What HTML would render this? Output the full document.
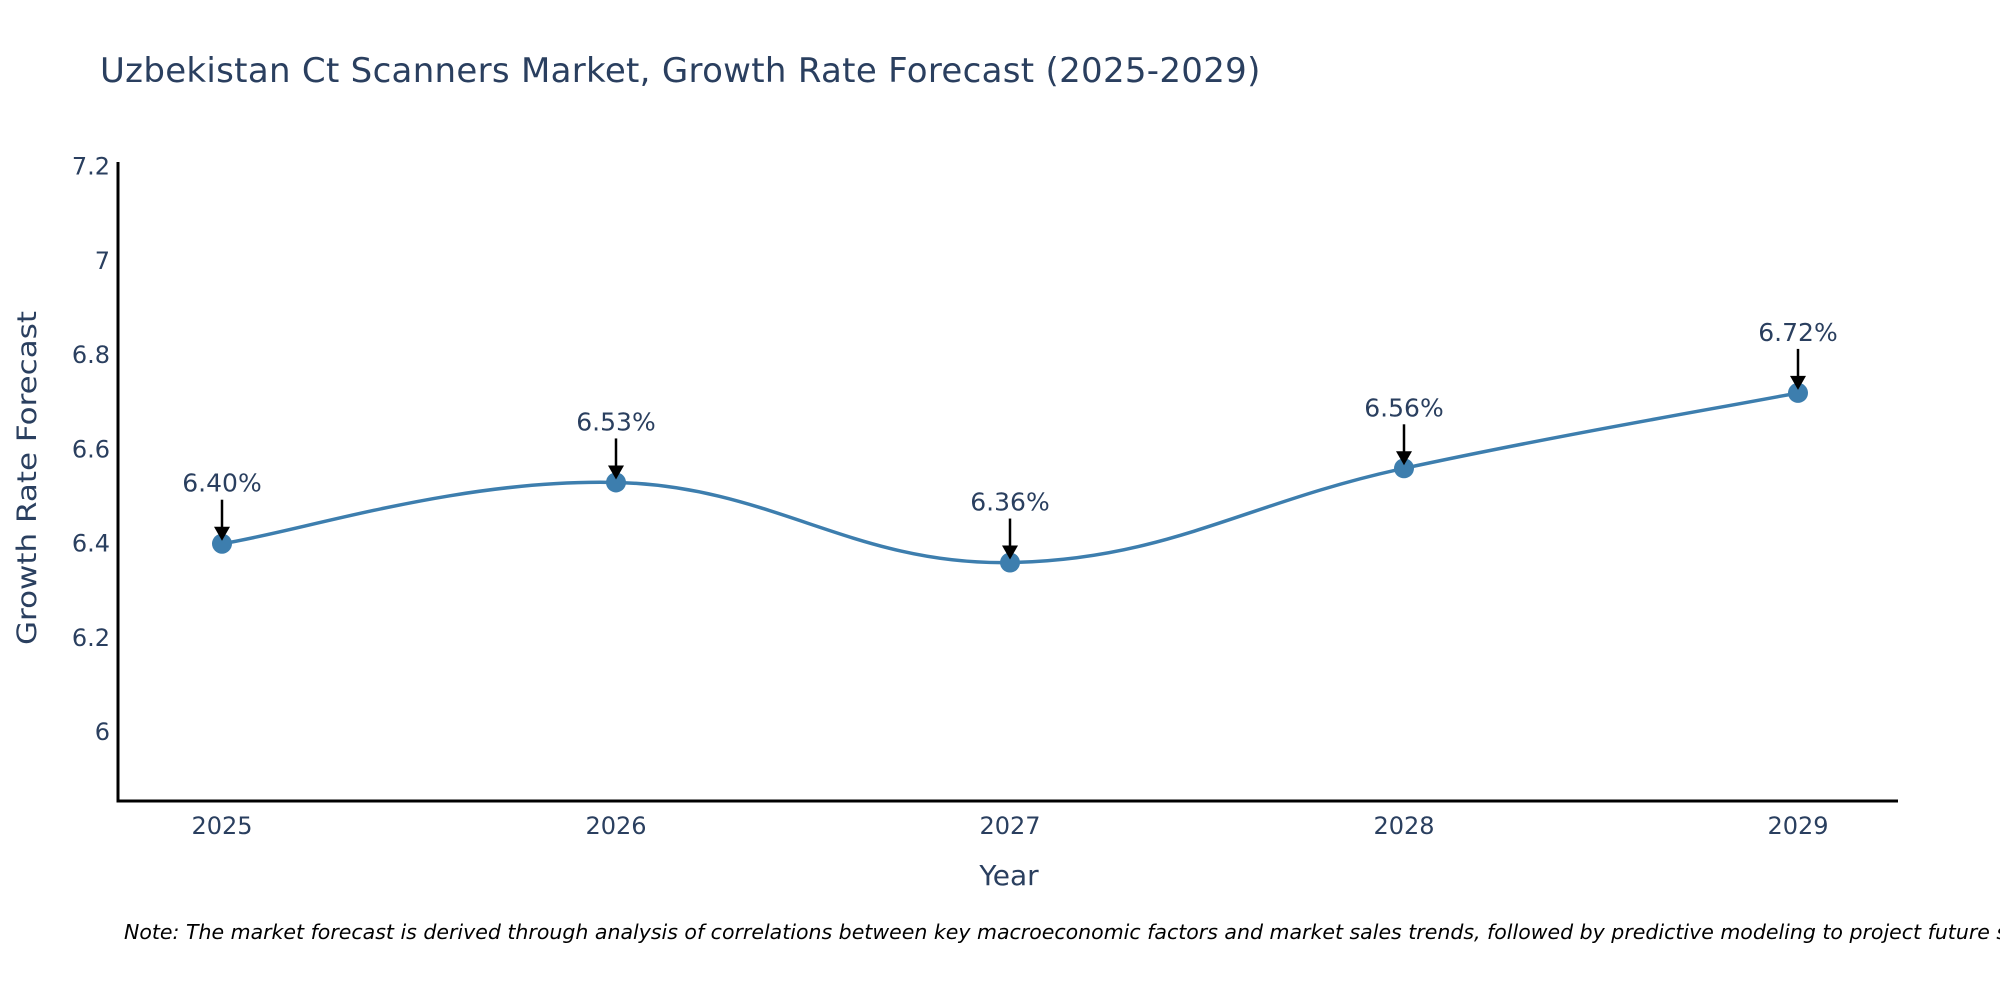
<!DOCTYPE html>
<html><head><meta charset="utf-8"><style>
body{margin:0;background:#fff;width:2000px;height:1000px;overflow:hidden}
svg{display:block}
text{font-family:"DejaVu Sans","Liberation Sans",sans-serif;fill:#2a3f5f}
</style></head><body>
<svg id="chart" width="2000" height="1000" xmlns="http://www.w3.org/2000/svg">
<text x="100" y="82" font-size="34" letter-spacing="0.3">Uzbekistan Ct Scanners Market, Growth Rate Forecast (2025-2029)</text>
<g id="plot"></g>
<text x="1009" y="885" font-size="28" text-anchor="middle">Year</text>
<text transform="translate(36,478) rotate(-90) scale(1,0.85)" font-size="31" text-anchor="middle">Growth Rate Forecast</text>
<text x="124" y="939" font-size="20.5" font-style="italic" style="fill:#000">Note: The market forecast is derived through analysis of correlations between key macroeconomic factors and market sales trends, followed by predictive modeling to project future sales.</text>
</svg>
<script>
const years=["2025","2026","2027","2028","2029"];
const values=[6.40,6.53,6.36,6.56,6.72];
const labels=["6.40%","6.53%","6.36%","6.56%","6.72%"];
const yTicks=[6,6.2,6.4,6.6,6.8,7,7.2];
const yTickLabels=["6","6.2","6.4","6.6","6.8","7","7.2"];
const NS="http://www.w3.org/2000/svg";
const L=118,R=1898,T=162,B=801,yMin=5.854,yMax=7.21;
const x=i=>222+i*(1798-222)/(years.length-1);
const y=v=>B-(v-yMin)/(yMax-yMin)*(B-T);
const g=document.getElementById('plot');
function mk(t,a){const e=document.createElementNS(NS,t);for(const k in a)e.setAttribute(k,a[k]);g.appendChild(e);return e;}
let e=mk('line',{x1:L,y1:T,x2:L,y2:B+1.5,stroke:'#000','stroke-width':3});


e=mk('line',{x1:L-1.5,y1:B,x2:R,y2:B,stroke:'#000','stroke-width':3});


yTicks.forEach((v,i)=>{const t=mk('text',{x:L-8,y:y(v)+8,'font-size':24,'text-anchor':'end'});t.textContent=yTickLabels[i];

});
years.forEach((yr,i)=>{const t=mk('text',{x:x(i),y:834,'font-size':24,'text-anchor':'middle'});t.textContent=yr;

});
const P=values.map((v,i)=>[x(i),y(v)]);
let d=`M${P[0][0]},${P[0][1]}`;
for(let i=0;i<P.length-1;i++){const p0=P[Math.max(i-1,0)],p1=P[i],p2=P[i+1],p3=P[Math.min(i+2,P.length-1)];const k=0.2;
d+=` C${p1[0]+(p2[0]-p0[0])*k},${p1[1]+(p2[1]-p0[1])*k} ${p2[0]-(p3[0]-p1[0])*k},${p2[1]-(p3[1]-p1[1])*k} ${p2[0]},${p2[1]}`;}
e=mk('path',{d:d,fill:'none',stroke:'#3d7eae','stroke-width':3.5});


P.forEach((p,i)=>{const c=mk('circle',{cx:p[0],cy:p[1],r:10,fill:'#3d7eae'});


const a=mk('line',{x1:p[0],y1:p[1]-44,x2:p[0],y2:p[1]-12,stroke:'#000','stroke-width':2.5});


const h=mk('polygon',{points:`${p[0]-8},${p[1]-17} ${p[0]+8},${p[1]-17} ${p[0]},${p[1]-3}`,fill:'#000'});


const t=mk('text',{x:p[0],y:p[1]-52,'font-size':25,'text-anchor':'middle'});t.textContent=labels[i];

});
</script>
</body></html>
